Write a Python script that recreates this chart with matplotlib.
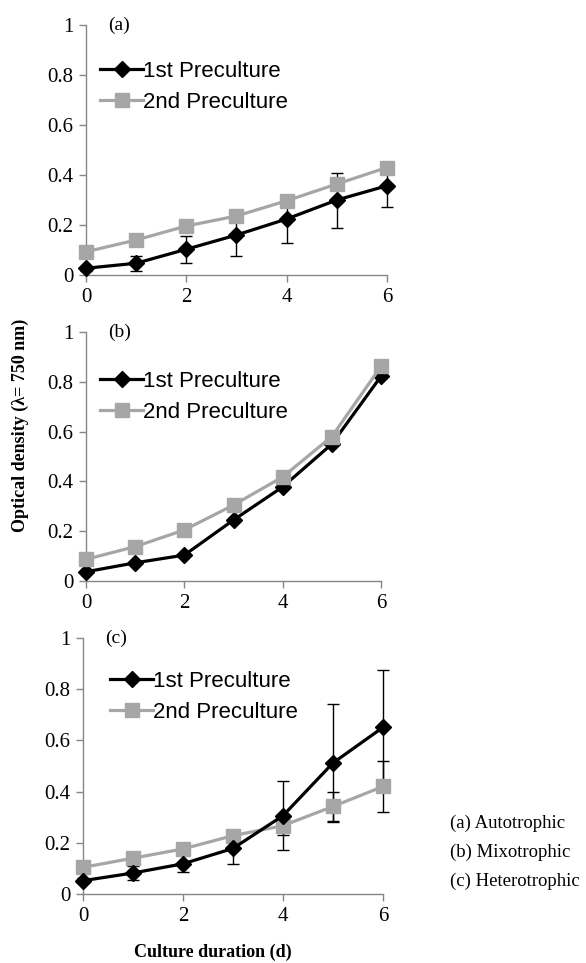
import matplotlib.pyplot as plt
import numpy as np

# culture days
days = [0, 1, 2, 3, 4, 5, 6]

# (a) autotrophic
a_first = [0.027, 0.047, 0.103, 0.160, 0.224, 0.300, 0.357]
a_first_err = [0.010, 0.030, 0.055, 0.085, 0.097, 0.110, 0.085]
a_second = [0.093, 0.140, 0.196, 0.236, 0.297, 0.364, 0.430]
a_second_err = [0.010, 0.010, 0.010, 0.010, 0.010, 0.010, 0.010]

# (b) mixotrophic
b_first = [0.037, 0.073, 0.104, 0.245, 0.378, 0.550, 0.822]
b_first_err = [0.005, 0.005, 0.005, 0.005, 0.005, 0.005, 0.005]
b_second = [0.087, 0.138, 0.205, 0.305, 0.418, 0.580, 0.862]
b_second_err = [0.005, 0.005, 0.005, 0.005, 0.005, 0.005, 0.005]

# (c) heterotrophic
c_first = [0.052, 0.082, 0.118, 0.178, 0.306, 0.512, 0.651]
c_first_err = [0.010, 0.026, 0.033, 0.060, 0.134, 0.232, 0.225]
c_second = [0.104, 0.140, 0.176, 0.228, 0.267, 0.342, 0.420]
c_second_err = [0.010, 0.010, 0.010, 0.010, 0.035, 0.058, 0.098]

series_names = ["1st Preculture", "2nd Preculture"]
panel_tags = ["(a)", "(b)", "(c)"]
notes = ["(a) Autotrophic", "(b) Mixotrophic", "(c) Heterotrophic"]

serif = ["Liberation Serif", "DejaVu Serif"]
sans = ["Liberation Sans", "DejaVu Sans"]
plt.rcParams["font.family"] = serif

W, H = 586, 963
fig = plt.figure(figsize=(W / 100, H / 100), dpi=100)

# axes boxes in pixels: left, right, top, bottom
boxes = [(86, 387, 25, 275), (86, 381, 332, 581), (83, 383, 638, 894)]
leg_pos = [(100, 61), (100, 371), (110, 671)]

panels = [
    (a_first, a_first_err, a_second, a_second_err),
    (b_first, b_first_err, b_second, b_second_err),
    (c_first, c_first_err, c_second, c_second_err),
]

for i, (f, fe, s, se) in enumerate(panels):
    l, r, t, b = boxes[i]
    ax = fig.add_axes([l / W, 1 - b / H, (r - l) / W, (b - t) / H])
    # error bars first, then the lines with markers on top
    ax.errorbar(days, f, yerr=fe, fmt="none", ecolor="black", elinewidth=1,
                capsize=4, capthick=1, zorder=2)
    ax.errorbar(days, s, yerr=se, fmt="none", ecolor="black", elinewidth=1,
                capsize=4, capthick=1, zorder=2)
    ax.plot(days, f, color="black", lw=2.3, marker="D", ms=8,
            label=series_names[0], zorder=4)
    ax.plot(days, s, color="#A6A6A6", lw=2.3, marker="s", ms=9.5,
            label=series_names[1], zorder=3 if i == 2 else 5)
    ax.set_xlim(0, 6)
    ax.set_ylim(0, 1)
    ax.set_xticks([0, 2, 4, 6])
    ax.set_yticks([0, 0.2, 0.4, 0.6, 0.8, 1.0])
    ax.set_yticklabels(["0", "0.2", "0.4", "0.6", "0.8", "1"])
    for sp in ["top", "right"]:
        ax.spines[sp].set_visible(False)
    for sp in ["left", "bottom"]:
        ax.spines[sp].set_color("#868686")
        ax.spines[sp].set_linewidth(1)
    ax.tick_params(direction="out", length=5, width=1, color="#868686",
                   labelsize=15, pad=4)
    for art in ax.get_children():
        if hasattr(art, "set_clip_on") and art not in ax.spines.values():
            art.set_clip_on(False)
    lx, ly = leg_pos[i]
    ax.legend(loc="upper left",
              bbox_to_anchor=((lx - l) / (r - l), (b - ly) / (b - t)),
              frameon=False, borderpad=0, borderaxespad=0, handletextpad=0,
              handlelength=1.95, labelspacing=0.45, numpoints=1,
              prop={"family": sans, "size": 16})
    ax.text(0.075, 1.0, panel_tags[i], transform=ax.transAxes, ha="left", va="center",
            fontsize=14)

fig.text(20 / W, 1 - 425 / H, "Optical density (\u03bb= 750 nm)", rotation=90,
         ha="center", va="center", fontsize=13, fontweight="bold")
fig.text(213 / W, 1 - 952 / H, "Culture duration (d)", ha="center", va="center",
         fontsize=13, fontweight="bold")

for k, note in enumerate(notes):
    fig.text(450 / W, 1 - (823 + 29 * k) / H, note, ha="left", va="center",
             fontsize=13.5)

fig.savefig("out.png", dpi=100)
